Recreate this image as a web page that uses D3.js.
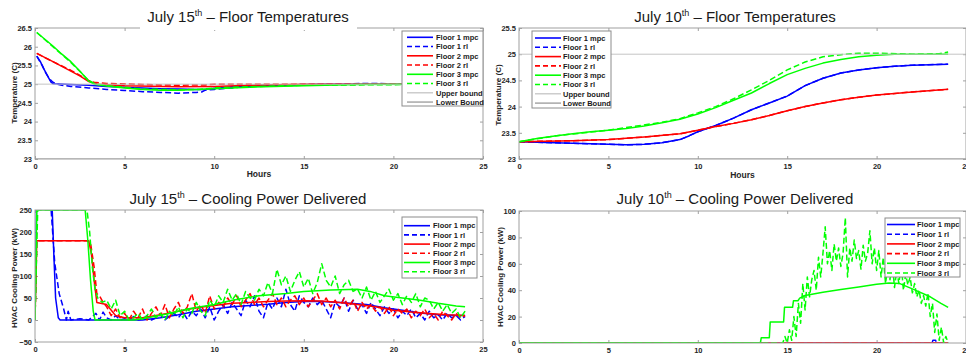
<!DOCTYPE html>
<html>
<head>
<meta charset="utf-8">
<script src="https://cdn.jsdelivr.net/npm/d3@7"></script>
<style>
  body { margin: 0; background: #fff; }
  svg { display: block; font-family: "Liberation Sans", Arial, sans-serif; }
  .tick text { font-weight: bold; font-size: 7.5px; fill: #262626; }
  .tick line { stroke: #a0a0a0; }
</style>
</head>
<body>
<svg id="chart" width="966" height="355"></svg>
<script>
// ---- data: [hour, value] ----
// July 15 temperatures
const t15_f1_mpc = [[0.1,25.75],[0.3,25.6],[0.5,25.4],[0.7,25.22],[0.9,25.05],[1.0,25.01],[2,24.99],[3,24.97],[4,24.94],[5,24.92],[6,24.9],[7,24.88],[8,24.87],[9,24.86],[9.5,24.86],[10,24.89],[11,24.93],[12,24.96],[14,24.98],[16,25.0],[24,25.0]];
const t15_f1_rl  = [[0.1,25.75],[0.4,25.5],[0.6,25.3],[0.8,25.15],[1.0,25.05],[1.2,25.0],[1.5,24.97],[2,24.94],[3,24.9],[4,24.86],[5,24.83],[6,24.8],[7,24.78],[8,24.76],[9,24.78],[9.3,24.79],[9.5,24.84],[10,24.86],[11,24.9],[12,24.95],[14,24.98],[16,25.0],[19,25.02],[20,25.0],[24,25.0]];
const t15_f2_mpc = [[0.1,25.82],[1,25.6],[2,25.35],[2.5,25.22],[3,25.07],[3.5,25.0],[5,24.96],[8,24.93],[10,24.94],[12,24.97],[15,25.0],[24,25.0]];
const t15_f2_rl  = [[0.1,25.82],[1,25.6],[2,25.37],[3,25.1],[3.3,25.05],[4,25.02],[6,24.99],[8,24.97],[9.5,24.98],[10,25.0],[24,25.0]];
const t15_f3_mpc = [[0.1,26.38],[0.5,26.22],[1,26.02],[1.5,25.8],[2,25.6],[2.5,25.35],[3,25.08],[3.3,25.0],[4,24.95],[5,24.9],[6,24.86],[7,24.84],[8,24.84],[9,24.86],[10,24.88],[12,24.92],[15,24.96],[18,24.99],[21,25.0],[24,25.0]];
const t15_f3_rl  = [[0.1,26.38],[1,26.0],[2,25.58],[3,25.1],[3.3,25.02],[4,24.96],[6,24.87],[8,24.85],[9.2,24.86],[10,24.9],[12,24.93],[15,24.97],[18,24.98],[21,24.99],[24,25.0]];

// July 10 temperatures
const t10_f1_mpc = [[0,23.33],[3,23.3],[6,23.27],[7,23.28],[8,23.31],[9,23.37],[9.5,23.44],[10,23.52],[11,23.64],[12,23.78],[13,23.94],[14,24.07],[15,24.2],[16,24.4],[17,24.54],[18,24.64],[19,24.7],[20,24.74],[21,24.77],[22,24.79],[24,24.81]];
const t10_f1_rl  = t10_f1_mpc;
const t10_f2_mpc = [[0,23.33],[3,23.35],[5,23.37],[7,23.42],[9,23.48],[10,23.55],[11,23.62],[12,23.68],[13,23.75],[14,23.83],[15,23.92],[16,24.0],[17,24.07],[18,24.13],[19,24.18],[20,24.22],[22,24.28],[24,24.33]];
const t10_f2_rl  = t10_f2_mpc;
const t10_f3_mpc = [[0,23.33],[1,23.39],[2,23.44],[3,23.48],[4,23.52],[5,23.55],[6,23.58],[7,23.63],[8,23.69],[9,23.76],[10,23.86],[11,23.98],[12,24.12],[13,24.26],[14,24.44],[15,24.61],[16,24.73],[17,24.83],[18,24.9],[19,24.95],[20,24.98],[21,25.0],[24,25.0]];
const t10_f3_rl  = [[0,23.33],[2,23.44],[5,23.55],[8,23.7],[9,23.77],[10,23.88],[11,24.0],[12,24.15],[13,24.32],[14,24.5],[15,24.7],[16,24.85],[17,24.95],[18,24.99],[19,25.02],[20,25.02],[22,25.0],[23.5,25.01],[24,25.04]];

const upperBound = [[0,25],[25,25]];
const lowerBound = [[0,23],[25,23]];

// July 15 cooling power (kW)
const p15_f1_mpc = [[0,0],[0.1,300],[0.95,262],[1.05,150],[1.15,50],[1.3,5],[1.4,0],[6,0],[7,5],[8,12],[9,20],[10,25],[11,30],[12,33],[13,36],[14,40],[15,42],[16,42],[17,40],[18.5,35],[19.5,28],[20.5,22],[21.5,16],[22.5,12],[23.5,10],[24,10]];
const p15_f2_mpc = [[0,0],[0.1,180],[3.0,180],[3.15,150],[3.3,90],[3.45,40],[4.0,35],[4.3,20],[4.5,10],[5,5],[6,5],[7,12],[8,20],[9,28],[10,33],[11,38],[12,40],[13,42],[14,43],[15,44],[16,43],[17,40],[18,35],[19,30],[20,22],[21,18],[22,15],[23,12],[24,10]];
const p15_f3_mpc = [[0,0],[0.1,250],[2.8,250],[2.95,180],[3.1,90],[3.25,20],[3.35,0],[5.5,0],[6,3],[7.5,15],[8.5,25],[10,35],[11,45],[12.5,55],[14,60],[15,65],[16.5,68],[18,70],[18.7,65],[19.5,55],[20.5,50],[21.5,45],[22.5,38],[23.5,32],[24,30]];
// rl: start-up segment, then readings every quarter hour from 4 h
const p15_f1_rl_head = [[0.1,300],[0.8,262],[0.9,250],[1.1,130],[1.35,60],[1.6,25],[1.75,0],[1.85,20],[2.0,0],[2.5,3],[3.0,0],[3.4,15],[3.6,0],[3.8,18]];
const p15_f2_rl_head = [[0,0],[0.1,180],[2.9,180],[3.1,175],[3.3,120],[3.45,60],[3.6,55],[3.8,40]];
const p15_f3_rl_head = [[0,0],[0.15,250],[2.9,250],[3.05,200],[3.2,120],[3.35,70],[3.5,50],[3.75,40]];
const p15_f1_rl_q = [5,0,10,0,3,0,8,0,2,10,0,5,12,0,8,15,5,18,2,20,10,25,5,30,0,20,35,15,40,25,10,45,30,55,20,5,40,25,50,30,70,35,20,55,40,30,50,35,45,25,5,40,30,50,20,45,25,35,15,40,25,10,30,15,25,5,20,10,25,5,15,0,20,5,12,0,15,5,10,0,8];
const p15_f2_rl_q = [30,10,25,5,15,0,20,5,25,0,15,30,10,35,5,25,40,15,30,60,20,35,15,55,25,40,30,50,35,55,30,45,60,35,50,30,45,60,35,50,30,45,55,35,50,30,45,60,35,50,30,45,25,50,30,45,20,40,25,35,20,30,15,30,10,25,15,25,5,20,10,25,5,15,0,20,10,0,15,5,10];
const p15_f3_rl_q = [45,25,45,10,20,0,5,15,0,10,25,5,15,0,20,10,30,5,25,15,40,20,10,45,30,55,40,70,45,60,35,65,50,45,70,55,85,60,115,80,100,65,90,110,75,95,60,85,128,90,75,100,60,80,90,65,70,50,75,45,65,40,55,70,45,60,35,55,40,60,30,50,45,25,40,20,35,15,25,5,20];
const p15_rl_start = 4, p15_rl_step = 0.25;

// July 10 cooling power (kW)
const p10_f1_mpc = [[0,0],[24,0]];
const p10_f1_rl  = [[0,0],[23.1,0],[23.15,2],[23.3,2],[23.35,0],[24,0]];
const p10_f2_mpc = [[0,0],[24,0]];
const p10_f2_rl  = [[0,0],[24,0]];
const p10_f3_mpc = [[0,0],[13.5,0],[13.55,4],[14,4],[14.05,16],[14.8,16],[14.85,27],[15.3,27],[15.35,32],[15.6,32],[15.7,34],[16,36],[17,38.5],[18,40.5],[19,42.5],[20,44.5],[20.7,45.5],[21.3,45],[22,41],[23,35],[23.6,30],[24,27]];
const p10_f3_rl_head = [[0,0],[14.6,0]];
const p10_f3_rl_q = [0,5,0,10,2,20,5,30,15,45,25,50,35,48,55,40,65,50,68,88,60,70,55,75,62,72,58,68,95,50,72,62,78,64,70,56,74,62,68,85,60,72,55,70,50,65,45,58,48,62,42,55,45,60,40,52,44,50,38,45,35,40,30,36,28,38,20,30,8,22,2,12,0,5,0];
const p10_rl_start = 14.75, p10_rl_step = 0.125;

const legendNames = ["Floor 1 mpc","Floor 1 rl","Floor 2 mpc","Floor 2 rl","Floor 3 mpc","Floor 3 rl"];
const boundNames = ["Upper bound","Lower Bound"];
const hourTicks = [0,5,10,15,20,25];

function withReadings(head, q, start, step) {
  return head.concat(q.map((v, i) => [start + i * step, v]));
}

const BLUE = "#0000ff", RED = "#ff0000", GREEN = "#00ff00";
const svg = d3.select("#chart");
const fmt = d3.format("~g");
let clipId = 0;

function drawPanel(p) {
  const g = svg.append("g");
  const x = d3.scaleLinear().domain([0, 25]).range([p.left, p.right]);
  const y = d3.scaleLinear().domain(p.yDomain).range([p.bottom, p.top]);

  g.append("rect").attr("x", p.left).attr("y", p.top)
    .attr("width", p.right - p.left).attr("height", p.bottom - p.top).attr("fill", "#fff");

  // ticks inside on all four sides, labels bottom/left only
  g.append("g").attr("transform", `translate(0,${p.bottom})`)
    .call(d3.axisBottom(x).tickValues(hourTicks).tickSize(-3).tickPadding(5).tickFormat(fmt))
    .call(a => a.select(".domain").remove());
  g.append("g").attr("transform", `translate(0,${p.top})`)
    .call(d3.axisTop(x).tickValues(hourTicks).tickSize(-3).tickFormat(""))
    .call(a => a.select(".domain").remove());
  g.append("g").attr("transform", `translate(${p.left},0)`)
    .call(d3.axisLeft(y).tickValues(p.yTicks).tickSize(-3).tickPadding(3).tickFormat(fmt))
    .call(a => a.select(".domain").remove());
  g.append("g").attr("transform", `translate(${p.right},0)`)
    .call(d3.axisRight(y).tickValues(p.yTicks).tickSize(-3).tickFormat(""))
    .call(a => a.select(".domain").remove());

  const id = "clip" + (clipId++);
  g.append("clipPath").attr("id", id).append("rect")
    .attr("x", p.left).attr("y", p.top)
    .attr("width", p.right - p.left).attr("height", p.bottom - p.top);

  const line = d3.line().x(d => x(d[0])).y(d => y(d[1]));
  const plot = g.append("g").attr("clip-path", `url(#${id})`);
  p.series.forEach(s => {
    plot.append("path").attr("d", line(s.data))
      .attr("fill", "none").attr("stroke", s.color)
      .attr("stroke-width", s.width || 1.5)
      .attr("stroke-dasharray", s.dash || null)
      .attr("stroke-linejoin", "round");
  });

  g.append("rect").attr("x", p.left).attr("y", p.top)
    .attr("width", p.right - p.left).attr("height", p.bottom - p.top)
    .attr("fill", "none").attr("stroke", "#a0a0a0").attr("stroke-width", 1);

  // legend
  const L = p.legend;
  const lg = g.append("g");
  lg.append("rect").attr("x", L.x).attr("y", L.y).attr("width", L.w).attr("height", L.h)
    .attr("fill", "#fff").attr("stroke", "#8c8c8c").attr("stroke-width", 1);
  p.series.forEach((s, i) => {
    const yy = L.y0 + i * L.dy;
    lg.append("line").attr("x1", L.lx0).attr("x2", L.lx1).attr("y1", yy).attr("y2", yy)
      .attr("stroke", s.color).attr("stroke-width", s.legendWidth || 1.6)
      .attr("stroke-dasharray", s.dash ? "5,3" : null);
    lg.append("text").attr("x", L.tx).attr("y", yy + 2.7)
      .attr("font-size", 7.5).attr("font-weight", "bold").attr("fill", "#1a1a1a")
      .text(s.name);
  });

  // axis labels
  g.append("text").attr("x", (p.left + p.right) / 2 + p.hoursDx).attr("y", p.hoursY)
    .attr("text-anchor", "middle").attr("font-size", 8.5).attr("font-weight", "bold")
    .attr("fill", "#262626").text("Hours");
  g.append("text")
    .attr("transform", `translate(${p.ylabX},${p.ylabY}) rotate(-90)`)
    .attr("text-anchor", "middle").attr("font-size", 8).attr("font-weight", "bold")
    .attr("fill", "#262626").text(p.ylabel);

  // title with white backing box
  const T = p.title;
  g.append("rect").attr("x", T.bx0).attr("y", T.by0).attr("width", T.bx1 - T.bx0)
    .attr("height", T.by1 - T.by0).attr("fill", "#fff");
  const tt = g.append("text").attr("x", T.cx).attr("y", T.y).attr("text-anchor", "middle")
    .attr("font-size", 15).attr("fill", "#1a1a1a");
  tt.append("tspan").text(T.pre);
  tt.append("tspan").attr("font-size", 9).attr("dy", -6).text("th");
  tt.append("tspan").attr("dy", 6).text(T.post);
}

function tempSeries(d) {
  return [
    {name: legendNames[0], color: BLUE, data: d[0]},
    {name: legendNames[1], color: BLUE, data: d[1], dash: "6,3"},
    {name: legendNames[2], color: RED, data: d[2]},
    {name: legendNames[3], color: RED, data: d[3], dash: "6,3"},
    {name: legendNames[4], color: GREEN, data: d[4]},
    {name: legendNames[5], color: GREEN, data: d[5], dash: "6,3"},
    {name: boundNames[0], color: "#c4c4c4", data: upperBound, width: 1, legendWidth: 1.3},
    {name: boundNames[1], color: "#9a9a9a", data: lowerBound, width: 1, legendWidth: 1.3}
  ];
}
function powerSeries(d) {
  return tempSeries(d).slice(0, 6);
}

drawPanel({
  left: 35, right: 483, top: 28, bottom: 159,
  yDomain: [23, 26.5], yTicks: [23,23.5,24,24.5,25,25.5,26,26.5],
  series: tempSeries([t15_f1_mpc, t15_f1_rl, t15_f2_mpc, t15_f2_rl, t15_f3_mpc, t15_f3_rl]),
  legend: {x: 402, y: 31, w: 81, h: 75, y0: 37.3, dy: 9.25, lx0: 407, lx1: 433, tx: 436},
  hoursDx: 0, hoursY: 177, ylabX: 17, ylabY: 93, ylabel: "Temperature (C)",
  title: {cx: 248, y: 22, pre: "July 15", post: " – Floor Temperatures", bx0: 140, bx1: 357, by0: 3, by1: 30}
});

drawPanel({
  left: 519, right: 966, top: 28, bottom: 159,
  yDomain: [23, 25.5], yTicks: [23,23.5,24,24.5,25,25.5],
  series: tempSeries([t10_f1_mpc, t10_f1_rl, t10_f2_mpc, t10_f2_rl, t10_f3_mpc, t10_f3_rl]),
  legend: {x: 532, y: 31, w: 79, h: 77, y0: 38, dy: 9.3, lx0: 535, lx1: 561, tx: 563},
  hoursDx: 0, hoursY: 178, ylabX: 501, ylabY: 95, ylabel: "Temperature (C)",
  title: {cx: 735, y: 22, pre: "July 10", post: " – Floor Temperatures", bx0: 628, bx1: 843, by0: 3, by1: 27}
});

drawPanel({
  left: 35, right: 483, top: 210, bottom: 342,
  yDomain: [-50, 250], yTicks: [-50,0,50,100,150,200,250],
  series: powerSeries([
    p15_f1_mpc, withReadings(p15_f1_rl_head, p15_f1_rl_q, p15_rl_start, p15_rl_step),
    p15_f2_mpc, withReadings(p15_f2_rl_head, p15_f2_rl_q, p15_rl_start, p15_rl_step),
    p15_f3_mpc, withReadings(p15_f3_rl_head, p15_f3_rl_q, p15_rl_start, p15_rl_step)
  ]),
  legend: {x: 402, y: 217, w: 75, h: 61, y0: 225.7, dy: 9.2, lx0: 404, lx1: 430, tx: 433},
  hoursDx: -10, hoursY: 361, ylabX: 17, ylabY: 278, ylabel: "HVAC Cooling Power (kW)",
  title: {cx: 248, y: 204, pre: "July 15", post: " – Cooling Power Delivered", bx0: 120, bx1: 378, by0: 178, by1: 209}
});

drawPanel({
  left: 519, right: 966, top: 211, bottom: 343,
  yDomain: [0, 100], yTicks: [0,20,40,60,80,100],
  series: powerSeries([
    p10_f1_mpc, p10_f1_rl, p10_f2_mpc, p10_f2_rl,
    p10_f3_mpc, withReadings(p10_f3_rl_head, p10_f3_rl_q, p10_rl_start, p10_rl_step)
  ]),
  legend: {x: 885, y: 218, w: 75, h: 59, y0: 224.5, dy: 9.7, lx0: 887, lx1: 915, tx: 917},
  hoursDx: -10, hoursY: 362, ylabX: 503, ylabY: 277, ylabel: "HVAC Cooling Power (kW)",
  title: {cx: 735, y: 204, pre: "July 10", post: " – Cooling Power Delivered", bx0: 606, bx1: 866, by0: 178, by1: 209}
});
</script>
</body>
</html>
